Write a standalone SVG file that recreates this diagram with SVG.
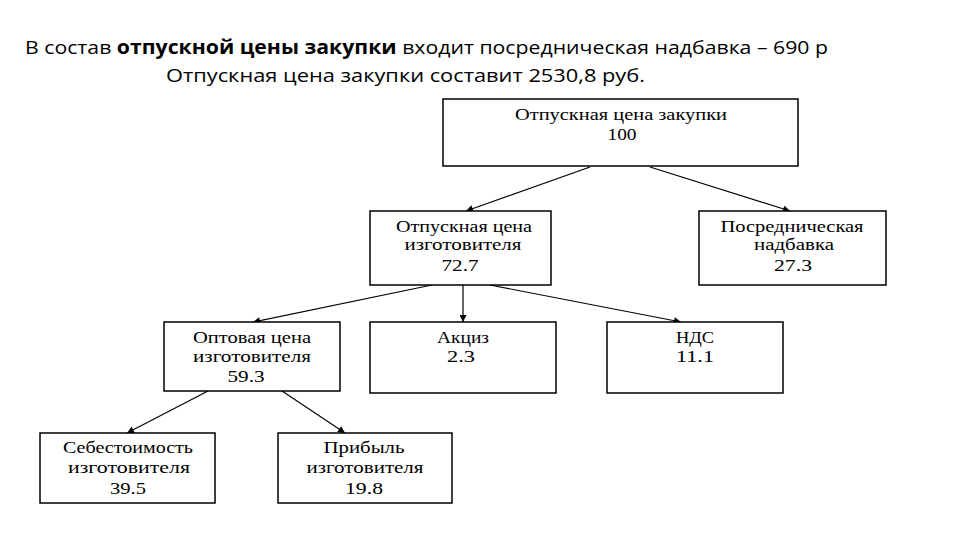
<svg xmlns="http://www.w3.org/2000/svg" width="960" height="540" viewBox="0 0 960 540">
<defs>
<marker id="ah" viewBox="0 0 10 10" refX="10" refY="5" markerWidth="8" markerHeight="7" markerUnits="userSpaceOnUse" orient="auto">
<path d="M0,0 L10,5 L0,10 z" fill="#000"/>
</marker>
</defs>
<style>
.box{fill:#fff;stroke:#000;stroke-width:1.5}
.t{font-family:"Liberation Serif",serif;font-size:16px;fill:#000;text-anchor:middle}
.h{font-family:"Open Sans","Liberation Sans",sans-serif;font-size:19px;fill:#000}
.c{stroke:#000;stroke-width:1.2;fill:none;marker-end:url(#ah)}
</style>
<rect width="960" height="540" fill="#fff"/>
<text class="h" x="25" y="54" textLength="803" lengthAdjust="spacingAndGlyphs">В состав <tspan font-weight="bold">отпускной цены закупки</tspan> входит посредническая надбавка – 690 р</text>
<text class="h" x="166" y="82" textLength="479" lengthAdjust="spacingAndGlyphs">Отпускная цена закупки составит 2530,8 руб.</text>
<g id="connectors">
<line class="c" x1="590" y1="167" x2="466" y2="211"/>
<line class="c" x1="650" y1="167" x2="790" y2="211"/>
<line class="c" x1="432" y1="285" x2="253" y2="322"/>
<line class="c" x1="463" y1="285" x2="463" y2="322"/>
<line class="c" x1="490" y1="285" x2="681" y2="322"/>
<line class="c" x1="208" y1="391" x2="127" y2="433"/>
<line class="c" x1="282" y1="391" x2="345" y2="433"/>
</g>
<g id="n1">
<rect class="box" x="443" y="99" width="355" height="67"/>
<text class="t" x="621" y="120" textLength="212" lengthAdjust="spacingAndGlyphs">Отпускная цена закупки</text>
<text class="t" x="622" y="140" textLength="29" lengthAdjust="spacingAndGlyphs">100</text>
</g>
<g id="n2">
<rect class="box" x="370" y="211" width="181" height="74"/>
<text class="t" x="464" y="232" textLength="136" lengthAdjust="spacingAndGlyphs">Отпускная цена</text>
<text class="t" x="463" y="250" textLength="117" lengthAdjust="spacingAndGlyphs">изготовителя</text>
<text class="t" x="460" y="271" textLength="37" lengthAdjust="spacingAndGlyphs">72.7</text>
</g>
<g id="n3">
<rect class="box" x="699" y="211" width="187" height="74"/>
<text class="t" x="792" y="232" textLength="143" lengthAdjust="spacingAndGlyphs">Посредническая</text>
<text class="t" x="794" y="250" textLength="80" lengthAdjust="spacingAndGlyphs">надбавка</text>
<text class="t" x="793" y="271" textLength="38" lengthAdjust="spacingAndGlyphs">27.3</text>
</g>
<g id="n4">
<rect class="box" x="164" y="322" width="176" height="69"/>
<text class="t" x="252" y="343" textLength="118" lengthAdjust="spacingAndGlyphs">Оптовая цена</text>
<text class="t" x="252" y="362" textLength="118" lengthAdjust="spacingAndGlyphs">изготовителя</text>
<text class="t" x="246" y="382" textLength="37" lengthAdjust="spacingAndGlyphs">59.3</text>
</g>
<g id="n5">
<rect class="box" x="370" y="322" width="186" height="71"/>
<text class="t" x="463" y="343" textLength="52" lengthAdjust="spacingAndGlyphs">Акциз</text>
<text class="t" x="461" y="362" textLength="28" lengthAdjust="spacingAndGlyphs">2.3</text>
</g>
<g id="n6">
<rect class="box" x="607" y="322" width="176" height="71"/>
<text class="t" x="695" y="343" textLength="38" lengthAdjust="spacingAndGlyphs">НДС</text>
<text class="t" x="695" y="362" textLength="38" lengthAdjust="spacingAndGlyphs">11.1</text>
</g>
<g id="n7">
<rect class="box" x="40" y="433" width="175" height="70"/>
<text class="t" x="128" y="453" textLength="130" lengthAdjust="spacingAndGlyphs">Себестоимость</text>
<text class="t" x="129" y="473" textLength="122" lengthAdjust="spacingAndGlyphs">изготовителя</text>
<text class="t" x="128" y="494" textLength="36" lengthAdjust="spacingAndGlyphs">39.5</text>
</g>
<g id="n8">
<rect class="box" x="278" y="433" width="174" height="70"/>
<text class="t" x="364" y="453" textLength="81" lengthAdjust="spacingAndGlyphs">Прибыль</text>
<text class="t" x="365" y="473" textLength="117" lengthAdjust="spacingAndGlyphs">изготовителя</text>
<text class="t" x="364" y="494" textLength="38" lengthAdjust="spacingAndGlyphs">19.8</text>
</g>
</svg>
